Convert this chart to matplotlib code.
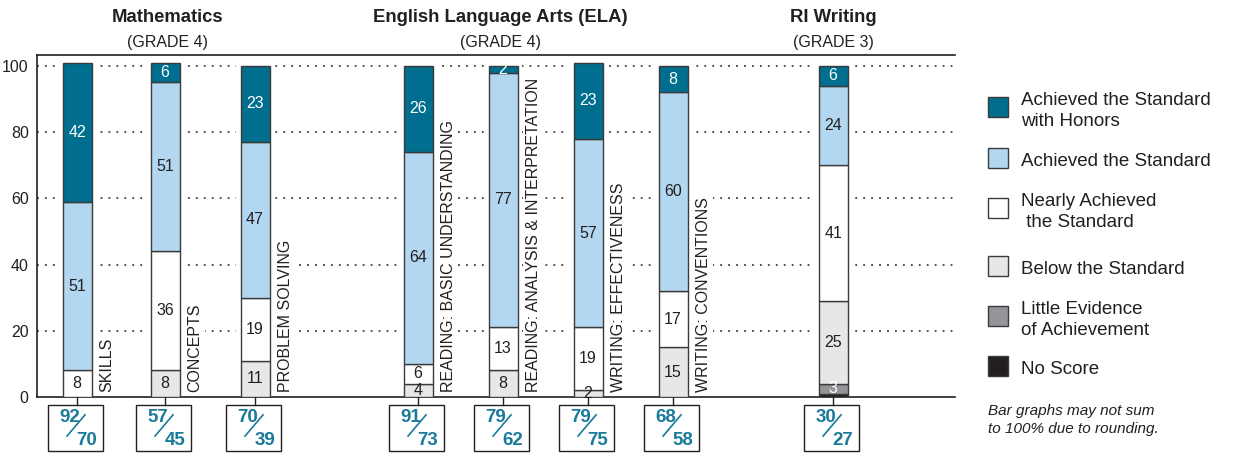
import matplotlib.pyplot as plt
from matplotlib.patches import Rectangle

plt.rcParams['font.family'] = ['Liberation Sans', 'DejaVu Sans']

# bottom to top: no score, little evidence, below, nearly, achieved, honors
bar_names = ["SKILLS", "CONCEPTS", "PROBLEM SOLVING",
             "READING: BASIC UNDERSTANDING", "READING: ANALYSIS & INTERPRETATION",
             "WRITING: EFFECTIVENESS", "WRITING: CONVENTIONS", ""]
no_score = [0, 0, 0, 0, 0, 0, 0, 1]
little_ev = [0, 0, 0, 0, 0, 0, 0, 3]
below = [0, 8, 11, 4, 8, 2, 15, 25]
nearly = [8, 36, 19, 6, 13, 19, 17, 41]
achieved = [51, 51, 47, 64, 77, 57, 60, 24]
honors = [42, 6, 23, 26, 2, 23, 8, 6]
school_pct = [92, 57, 70, 91, 79, 79, 68, 30]
state_pct = [70, 45, 39, 73, 62, 75, 58, 27]

levels = ["No Score", "Little Evidence\nof Achievement", "Below the Standard",
          "Nearly Achieved\n the Standard", "Achieved the Standard",
          "Achieved the Standard\nwith Honors"]
colors = ["#231f20", "#939598", "#e6e7e8", "#ffffff", "#b3d7f0", "#006e8f"]
text_colors = ["white", "white", "#231f20", "#231f20", "#231f20", "white"]

positions = [40, 128, 218, 381, 466, 551, 636, 796]
width = 29
teal = "#1a7a9a"
dark = "#231f20"
narrow = ['Liberation Sans Narrow', 'Liberation Sans', 'DejaVu Sans']

fig = plt.figure(figsize=(12.34, 4.54), dpi=100)
ax = fig.add_axes([0.030, 0.1256, 0.744, 0.7533])
ax.set_xlim(0, 918)
ax.set_ylim(0, 103.3)

for y in [20, 40, 60, 80, 100]:
    ax.axhline(y, color=dark, lw=1.1, linestyle=(0, (1.2, 4)), zorder=0)

series = [no_score, little_ev, below, nearly, achieved, honors]
for i, x in enumerate(positions):
    total = sum(s[i] for s in series)
    # white gap in the gridlines around each bar
    ax.bar(x, total + 0.6, width=width + 9, color="white", linewidth=0, zorder=1)
    bottom = 0
    for k, s in enumerate(series):
        v = s[i]
        if v == 0:
            continue
        ax.bar(x, v, width=width, bottom=bottom, color=colors[k],
               edgecolor="#3a3a3a", linewidth=1.0, zorder=3)
        if v >= 2:
            ax.text(x, bottom + v / 2, str(v), ha="center", va="center",
                    fontsize=11.5, color=text_colors[k], zorder=4)
        bottom += v
    if bar_names[i]:
        ax.text(x + width / 2 + 8, 1.5, bar_names[i], rotation=90,
                ha="left", va="bottom", fontsize=11.5, color=dark, zorder=4,
                bbox=dict(facecolor="white", edgecolor="none", pad=2))

    # percentage box under the bar
    ax.plot([x, x], [0, -2.4], color=dark, lw=1, clip_on=False)
    ax.add_patch(Rectangle((x - 29, -16.2), 55, 13.8, facecolor="white",
                           edgecolor=dark, lw=1, clip_on=False))
    ax.plot([x - 10, x + 8], [-11.8, -5.4], color=teal, lw=1.2, clip_on=False)
    ax.text(x - 7, -6.1, str(school_pct[i]), ha="center", va="center",
            fontsize=13.5, fontweight="bold", color=teal, clip_on=False, family=narrow)
    ax.text(x + 10, -13.0, str(state_pct[i]), ha="center", va="center",
            fontsize=13.5, fontweight="bold", color=teal, clip_on=False, family=narrow)

ax.set_yticks([0, 20, 40, 60, 80, 100])
ax.tick_params(axis="y", length=0, labelsize=11.5, pad=6, colors=dark)
ax.set_xticks([])
ax.spines["right"].set_visible(False)
for sp in ["left", "top", "bottom"]:
    ax.spines[sp].set_color(dark)
    ax.spines[sp].set_linewidth(1.2)

# section titles
titles = [("Mathematics", 168), ("English Language Arts (ELA)", 500), ("RI Writing", 833)]
grades = ["(GRADE 4)", "(GRADE 4)", "(GRADE 3)"]
for (t, px), g in zip(titles, grades):
    fig.text(px / 1234, 1 - 18 / 454, t, ha="center", va="center",
             fontsize=13.3, fontweight="bold", color=dark)
    fig.text(px / 1234, 1 - 42 / 454, g, ha="center", va="center",
             fontsize=11.5, color=dark)

# legend
leg_y = [107, 158, 208, 266, 316, 366]
for k in range(5, -1, -1):
    py = leg_y[5 - k]
    fig.patches.append(Rectangle((988 / 1234, 1 - (py + 10) / 454), 20 / 1234, 20 / 454,
                                 transform=fig.transFigure, facecolor=colors[k],
                                 edgecolor="#3a3a3a", lw=1))
    fig.text(1021 / 1234, 1 - (py + 4) / 454, levels[k], ha="left", va="center",
             fontsize=13.5, color=dark, linespacing=1.35)

fig.text(988 / 1234, 1 - 420 / 454, "Bar graphs may not sum\nto 100% due to rounding.",
         ha="left", va="center", fontsize=11, style="italic", color=dark,
         linespacing=1.3)

fig.savefig("out.png", dpi=100)
